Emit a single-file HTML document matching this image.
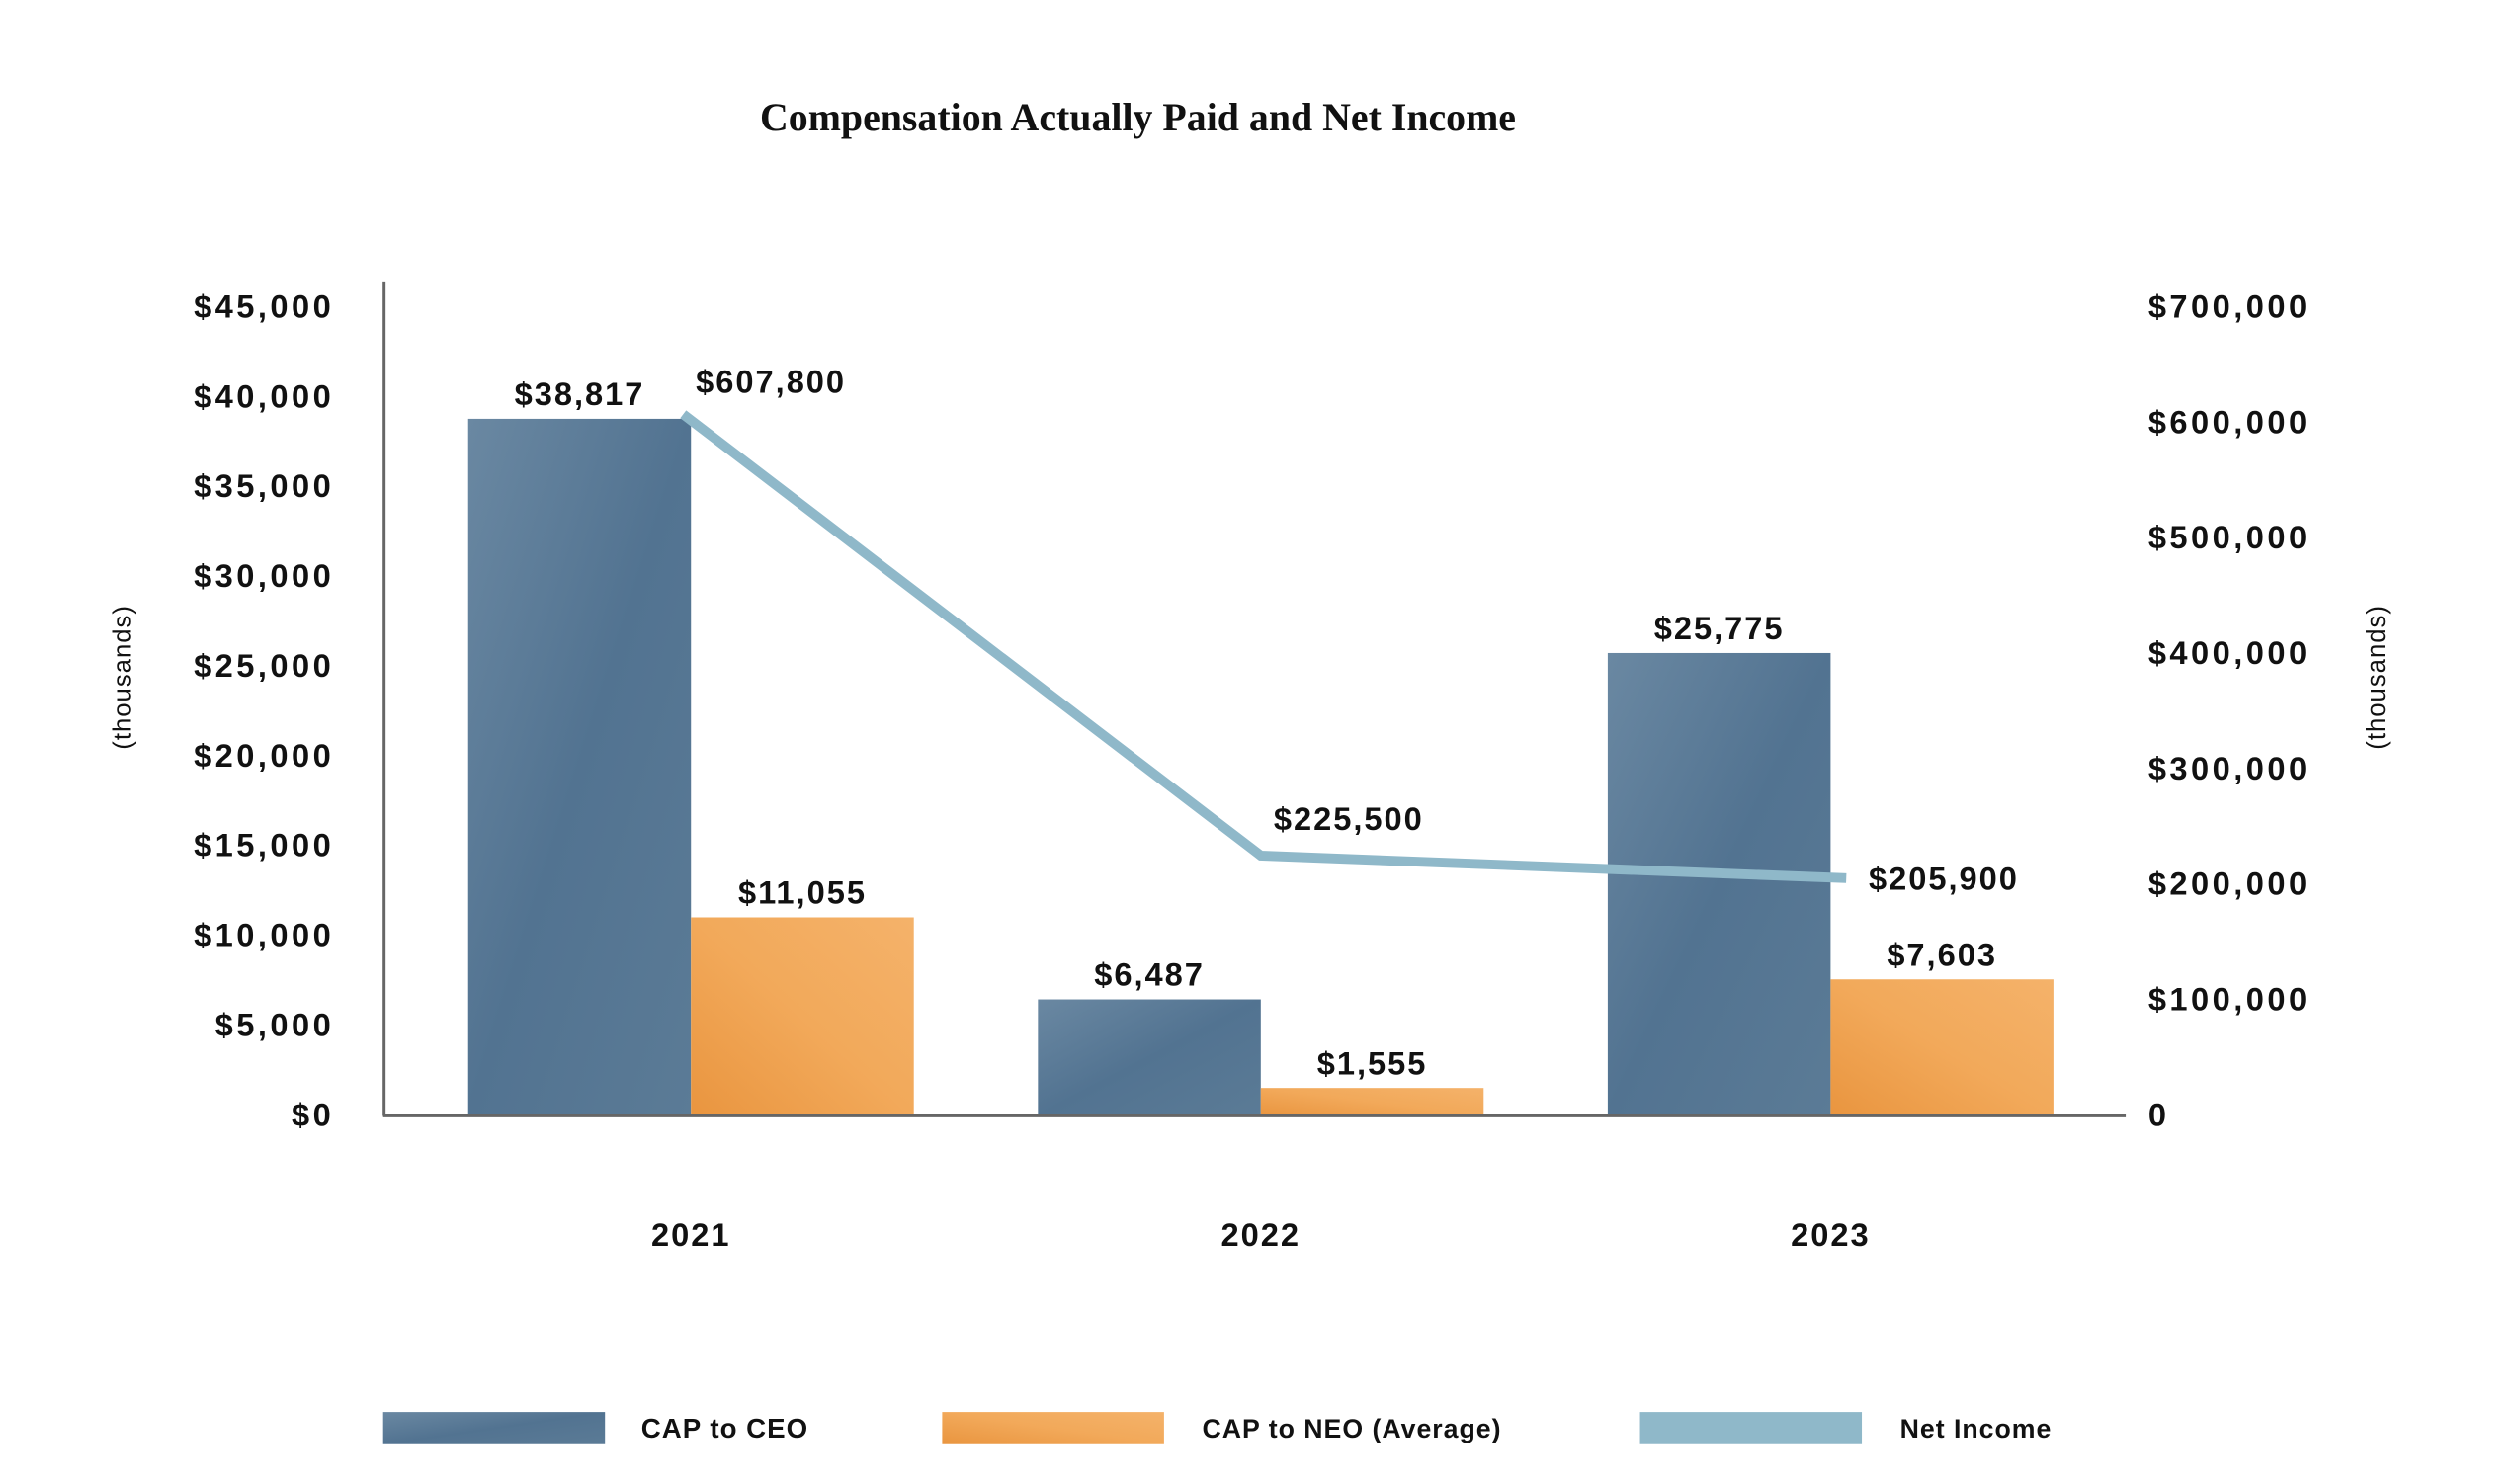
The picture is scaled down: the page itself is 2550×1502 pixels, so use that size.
<!DOCTYPE html>
<html><head><meta charset="utf-8"><style>
html,body{margin:0;padding:0;background:#fff;}
svg text{font-family:"Liberation Sans",sans-serif;font-weight:bold;fill:#111;}
.tick{letter-spacing:3.5px;}
.val{letter-spacing:2px;}
</style></head><body>
<svg id="chart" width="2550" height="1497" viewBox="0 0 2550 1497" xmlns="http://www.w3.org/2000/svg">
<defs>
<linearGradient id="gBlue" x1="0" y1="0" x2="1" y2="1"><stop offset="0" stop-color="#6a88a2"/><stop offset="0.5" stop-color="#527391"/><stop offset="1" stop-color="#5b7b96"/></linearGradient>
<linearGradient id="gOrange" x1="0" y1="1" x2="1" y2="0"><stop offset="0" stop-color="#e9953f"/><stop offset="0.5" stop-color="#f2a95a"/><stop offset="1" stop-color="#f4b26a"/></linearGradient>
</defs>
<text x="769" y="132" textLength="765" lengthAdjust="spacingAndGlyphs" style="font-family:'Liberation Serif',serif;font-size:40px;font-weight:bold;">Compensation Actually Paid and Net Income</text>
<g transform="scale(0.989)">
<g id="plot"></g>
<text transform="translate(134,693) rotate(-90)" text-anchor="middle" style="font-size:26px;font-weight:normal;letter-spacing:1px;">(thousands)</text>
<text transform="translate(2440,693) rotate(-90)" text-anchor="middle" style="font-size:26px;font-weight:normal;letter-spacing:1px;">(thousands)</text>
<g>
<rect x="392" y="1445" width="227" height="33" fill="url(#gBlue)"/>
<text x="656" y="1471" style="font-size:28px;letter-spacing:1px;">CAP to CEO</text>
<rect x="964" y="1445" width="227" height="33" fill="url(#gOrange)"/>
<text x="1230" y="1471" style="font-size:27px;letter-spacing:1px;">CAP to NEO (Average)</text>
<rect x="1678" y="1445" width="227" height="33" fill="#8fb8c9"/>
<text x="1944" y="1471" style="font-size:27px;letter-spacing:1px;">Net Income</text>
</g>
</g>
</svg>
<script>
const years = ["2021","2022","2023"];
const ceoCap = [38817, 6487, 25775];
const neoCap = [11055, 1555, 7603];
const netIncome = [607800, 225500, 205900];
const leftTicks = [0,5000,10000,15000,20000,25000,30000,35000,40000,45000];
const rightTicks = [0,100000,200000,300000,400000,500000,600000,700000];

const NS="http://www.w3.org/2000/svg";
const plotG=document.getElementById('plot');
const yBase=1142, yTop=315;
const yL=v=>yBase-(v/45000)*(yBase-yTop);
const yR=v=>yBase-(v/700000)*(yBase-yTop);
const xC=i=>707+i*583;
const bw=228;
const fmt=v=>'$'+v.toLocaleString('en-US');
function el(t,a,txt){const e=document.createElementNS(NS,t);for(const k in a)e.setAttribute(k,a[k]);if(txt!==undefined)e.textContent=txt;plotG.appendChild(e);return e;}

leftTicks.forEach(v=>{
  const e=el('text',{x:342,y:yL(v)+10,'text-anchor':'end','class':'tick',style:'font-size:33px'},fmt(v));
  
  
});
rightTicks.forEach(v=>{
  const e=el('text',{x:2198,y:yR(v)+10,'class':'tick',style:'font-size:33px'},v===0?'0':fmt(v));
  
  
});
years.forEach((yr,i)=>{
  const c=xC(i);
  const b1=el('rect',{x:c-bw,y:yL(ceoCap[i]),width:bw,height:yBase-yL(ceoCap[i]),fill:'url(#gBlue)'});
  
  
  const b2=el('rect',{x:c,y:yL(neoCap[i]),width:bw,height:yBase-yL(neoCap[i]),fill:'url(#gOrange)'});
  
  
  const l1=el('text',{x:c-bw/2,y:yL(ceoCap[i])-14,'text-anchor':'middle','class':'val',style:'font-size:33px'},fmt(ceoCap[i]));
  
  
  const l2=el('text',{x:c+bw/2,y:yL(neoCap[i])-14,'text-anchor':'middle','class':'val',style:'font-size:33px'},fmt(neoCap[i]));
  
  
  const yl=el('text',{x:c,y:1275,'text-anchor':'middle','class':'val',style:'font-size:33px'},yr);
  
  
});
const lx=[xC(0)-8,xC(1),xC(2)+16];
const pts=netIncome.map((v,i)=>lx[i]+','+yR(v)).join(' ');
const line=el('polyline',{points:pts,fill:'none',stroke:'#8fb8c9','stroke-width':10});


const lblPos=[[lx[0]+13,-22,'start'],[lx[1]+90,-26,'middle'],[lx[2]+23,12,'start']];
netIncome.forEach((v,i)=>{
  const t=el('text',{x:lblPos[i][0],y:yR(v)+lblPos[i][1],'text-anchor':lblPos[i][2],'class':'val',style:'font-size:33px'},fmt(v));
  
  
});
const ax=el('line',{x1:393,y1:288,x2:393,y2:yBase,stroke:'#666','stroke-width':3});


const bx=el('line',{x1:392,y1:yBase,x2:2175,y2:yBase,stroke:'#666','stroke-width':3});


</script>
</body></html>
